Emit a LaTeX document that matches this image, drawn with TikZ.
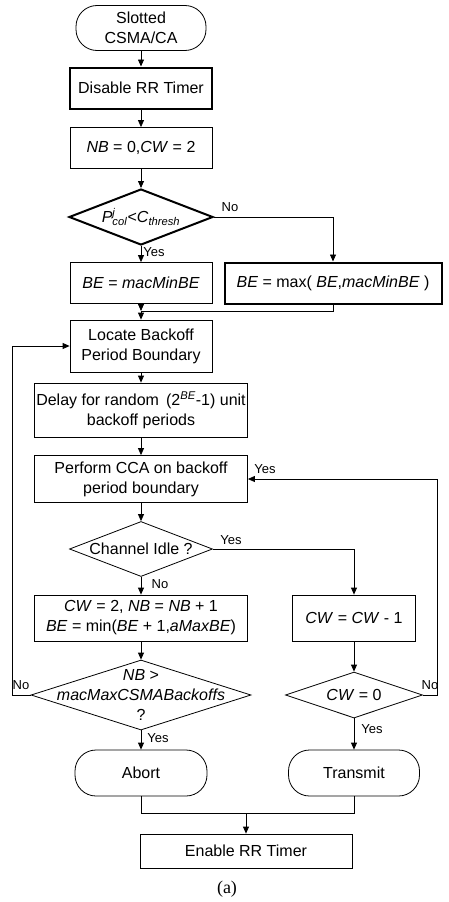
\documentclass[tikz,border=0pt]{standalone}
\usepackage{fontspec}
\setmainfont{Liberation Sans}
\newfontfamily\capfont{Liberation Serif}
\usetikzlibrary{shapes.geometric,arrows.meta}
\newcommand{\Pcol}{\textit{P}\rlap{\textsuperscript{\textit{j}}}\textsubscript{\textit{col}}}
\begin{document}
\begin{tikzpicture}[x=1pt,y=-1pt,
  every node/.style={font=\fontsize{16}{20}\selectfont, align=center, inner sep=0pt},
  box/.style={draw, rectangle, line width=0.8pt},
  thickbox/.style={draw, rectangle, line width=2pt},
  term/.style={draw, rectangle, rounded corners=21pt, line width=0.8pt},
  dia/.style={draw, diamond, line width=0.8pt},
  lbl/.style={font=\fontsize{13}{15}\selectfont},
  conn/.style={line width=0.8pt},
  arr/.style={conn, -{Triangle[length=7pt,width=6pt]}}
]
\useasboundingbox (0,0) rectangle (448,902);

% nodes
\node[term, minimum width=130, minimum height=45] (start) at (141,28) {Slotted\\CSMA/CA};
\node[thickbox, minimum width=142, minimum height=41] (disable) at (141,88) {Disable RR Timer};
\node[box, minimum width=142, minimum height=41] (init) at (141,148) {\textit{NB} = 0,\textit{CW} = 2};
\node[dia, line width=2pt, minimum width=144, minimum height=56] (d1) at (141,217) {};
\node (d1t) at (d1.center) {\Pcol<\textit{C}\textsubscript{\textit{thresh}}};
\node[box, minimum width=142, minimum height=41] (bemin) at (141,283) {\textit{BE} = \textit{macMinBE}};
\node[thickbox, minimum width=217, minimum height=41] (bemax) at (333,283) {\textit{BE} = max( \textit{BE},\textit{macMinBE} )};
\node[box, minimum width=142, minimum height=52] (locate) at (141,346) {Locate Backoff\\Period Boundary};
\node[box, minimum width=213, minimum height=54] (delay) at (141,410) {Delay for random\ \,(2\textsuperscript{\textit{BE}}-1) unit\\backoff periods};
\node[box, minimum width=213, minimum height=47] (perform) at (141,479) {Perform CCA on backoff\\period boundary};
\node[dia, minimum width=143, minimum height=55] (d2) at (141,549) {};
\node (d2t) at (d2.center) {Channel Idle ?};
\node[box, minimum width=213, minimum height=46] (cw2) at (141,618) {\textit{CW} = 2, \textit{NB} = \textit{NB} + 1\\\textit{BE} = min(\textit{BE} + 1,\textit{aMaxBE})};
\node[box, minimum width=123, minimum height=46] (cwm1) at (354,618) {\textit{CW} = \textit{CW} - 1};
\node[dia, minimum width=220, minimum height=70] (d3) at (141,695) {};
\node (d3t) at (d3.center) {\textit{NB} >\\\textit{macMaxCSMABackoffs}\\?};
\node[dia, minimum width=137, minimum height=46] (d4) at (354,695) {};
\node (d4t) at (d4.center) {\textit{CW} = 0};
\node[term, minimum width=132, minimum height=46] (abort) at (141,773) {Abort};
\node[term, minimum width=131, minimum height=46] (transmit) at (354,773) {Transmit};
\node[box, minimum width=212, minimum height=34] (enable) at (246,851) {Enable RR Timer};
\node[font=\capfont\fontsize{18}{20}\selectfont] (cap) at (227,889) {(a)};

% helper coordinates
\coordinate (m1) at (141,311);
\coordinate (m2) at (246,813);
\coordinate (lp) at (12,695);
\coordinate (rp) at (437,695);

% connectors
\draw[arr] (start) -- (disable);
\draw[arr] (disable) -- (init);
\draw[arr] (init) -- (d1);
\draw[arr] (d1) -- (bemin);
\draw[arr] (d1.east) -| (bemax.north);
\draw[arr] (bemin) -- (m1);
\draw[conn] (bemax.south) |- (m1);
\draw[arr] (m1) -- (locate);
\draw[arr] (locate) -- (delay);
\draw[arr] (delay) -- (perform);
\draw[arr] (perform) -- (d2);
\draw[arr] (d2) -- (cw2);
\draw[arr] (d2.east) -| (cwm1.north);
\draw[arr] (cw2) -- (d3);
\draw[arr] (d3) -- (abort);
\draw[arr] (d3.west) -- (lp) |- (locate.west);
\draw[arr] (cwm1) -- (d4);
\draw[arr] (d4) -- (transmit);
\draw[arr] (d4.east) -- (rp) |- (perform.east);
\draw[conn] (abort.south) |- (m2);
\draw[conn] (transmit.south) |- (m2);
\draw[arr] (m2) -- (enable);

% labels
\node[lbl] (no1) at (230,207) {No};
\node[lbl] (yes1) at (154,252) {Yes};
\node[lbl] (yes2) at (265,469) {Yes};
\node[lbl] (yes3) at (231,540) {Yes};
\node[lbl] (no2) at (160,584) {No};
\node[lbl] (no3) at (21,685) {No};
\node[lbl] (yes4) at (158,738) {Yes};
\node[lbl] (no4) at (430,685) {No};
\node[lbl] (yes5) at (372,729) {Yes};
\end{tikzpicture}
\end{document}
